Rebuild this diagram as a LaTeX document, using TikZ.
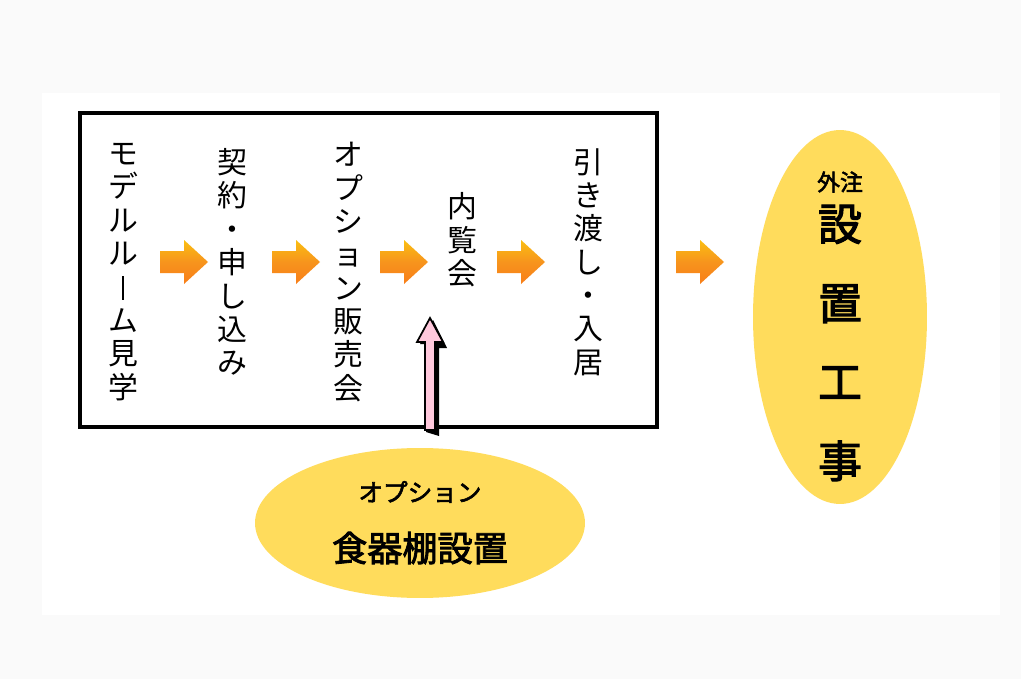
\documentclass[tikz,border=0pt]{standalone}
\usepackage{fontspec}
\setmainfont{Noto Sans CJK JP}
\newfontfamily\jpb{Noto Sans CJK JP}[FakeBold=2.5]
\usetikzlibrary{shapes.geometric,shadows}
\definecolor{bgc}{HTML}{FAFAFA}
\definecolor{ylw}{HTML}{FFDC5C}
\definecolor{org}{HTML}{F7941D}
\definecolor{pnk}{HTML}{FFC8DC}
\newcommand{\vbar}{\rule[-0.05em]{0.06em}{0.8em}}
\tikzset{
 col/.style={align=center,font=\fontsize{17}{19}\selectfont,inner sep=0pt},
 oarr/.style={top color=org!60!yellow,bottom color=org!85!red,middle color=org},
}
\begin{document}
\begin{tikzpicture}[x=0.02cm,y=-0.02cm]
\useasboundingbox (0,0) rectangle (1021,679);
\fill[bgc] (0,0) rectangle (1021,679);
\fill[white] (42,93) rectangle (1000,615);
\node[draw,line width=2.2pt,minimum width=11.54cm,minimum height=6.28cm,inner sep=0pt] (box) at (368.5,270) {};
\node[col] (c1) at (123,272) {モ\\デ\\ル\\ル\\\vbar\\ム\\見\\学};
\node[col] (c2) at (232,262) {契\\約\\・\\申\\し\\込\\み};
\node[col] (c3) at (348,272) {オ\\プ\\シ\\ョ\\ン\\販\\売\\会};
\node[col] (c4) at (462,240) {内\\覧\\会};
\node[col] (c5) at (588,262) {引\\き\\渡\\し\\・\\入\\居};
\foreach \x in {184,296,404,521,700}
  \shade[oarr,shift={(\x,262)}] (-24,-11) -- (0,-11) -- (0,-22) -- (24,0) -- (0,22) -- (0,11) -- (-24,11) -- cycle;
\node[ellipse,fill=ylw,minimum width=3.48cm,minimum height=7.48cm] (e1) at (840,317) {};
\node[font=\jpb\fontsize{13}{15}\selectfont] (t1) at (840,182) {外注};
\node[font=\jpb\fontsize{25}{45}\selectfont,align=center] (t2) at (840,343) {設\\置\\工\\事};
\node[ellipse,fill=ylw,minimum width=6.6cm,minimum height=3.0cm] (e2) at (420,523) {};
\node[font=\jpb\fontsize{14}{16}\selectfont] (t3) at (420,492) {オプション};
\node[font=\jpb\fontsize{20}{22}\selectfont] (t4) at (420,548) {食器棚設置};
\begin{scope}[shift={(430,0)}]
\fill[black] (-4,432) -- (-4,344) -- (-10,344) -- (3,320) -- (17,348) -- (9,348) -- (9,436) -- cycle;
\draw[black,line width=1pt,fill=pnk] (-5,430) -- (-5,342) -- (-13,342) -- (0,318) -- (13,342) -- (5,342) -- (5,430) -- cycle;
\end{scope}
\end{tikzpicture}
\end{document}
